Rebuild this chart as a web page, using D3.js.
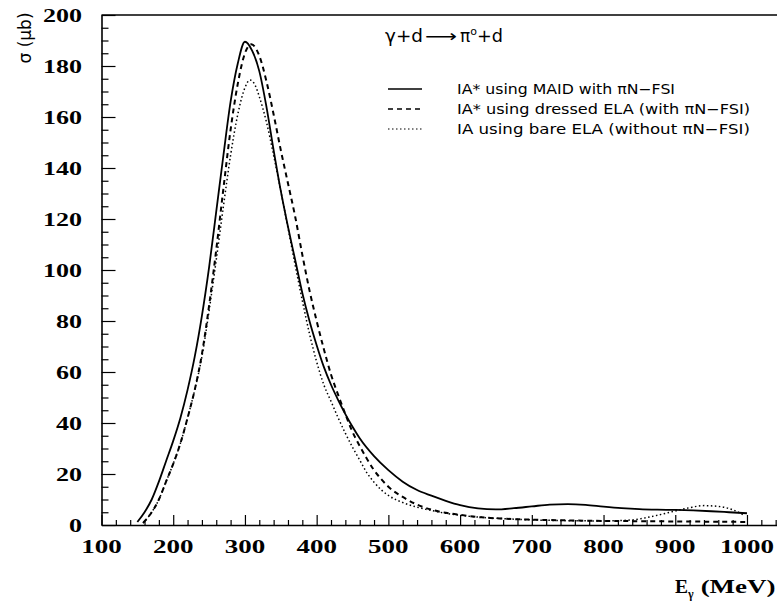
<!DOCTYPE html>
<html>
<head>
<meta charset="utf-8">
<script src="https://cdn.jsdelivr.net/npm/d3@7"></script>
<style>
  body { margin: 0; background: #fff; }
  svg { display: block; }
  .tick-label { font-family: "Liberation Serif", "Times New Roman", serif; font-weight: bold; font-size: 19px; fill: #000; }
  .paw { font-family: "DejaVu Sans", sans-serif; fill: #000; }
</style>
</head>
<body>
<svg id="chart"></svg>
<script>
// MAID with piN-FSI (solid)
const maidE = [150,160,170,180,190,200,210,220,230,240,250,260,270,280,290,300,310,320,330,340,350,360,370,380,390,400,410,420,430,440,450,460,480,500,520,540,560,580,600,625,650,675,700,725,750,775,800,825,850,875,900,925,950,975,1000];
const maidS = [1.2,5,10,17,25,33,42,53,66,82,101,123,145,166,181,189.5,186,178,164,147,131,117,104,91,80,70.5,62,55,49,43.5,38.5,34,27,21.5,17,13.7,11.5,9.5,7.8,6.5,6.1,6.6,7.3,8.0,8.2,7.9,7.2,6.6,6.2,6.0,5.9,5.7,5.4,5.0,4.6];

// dressed ELA with piN-FSI (dashed)
const dressedE = [158,170,180,190,200,210,220,230,240,250,260,270,280,290,300,309,320,330,340,350,360,370,380,390,400,410,420,430,440,450,460,470,480,490,500,520,540,560,580,600,630,660,700,750,800,850,900,950,1000];
const dressedS = [0.8,5,10,17,24,32,42,53,67,86,108,132,155,173,185,188.5,184,174,161,147,134,121,106,92,80,69,59,51,43.5,36.5,31,26,21.5,18,15,11,8,6,4.8,4,3.0,2.5,2.1,1.8,1.6,1.5,1.4,1.3,1.2];

// bare ELA without piN-FSI (dotted)
const bareE = [158,170,180,190,200,210,220,230,240,250,260,270,280,290,300,307,315,320,330,340,350,360,370,380,390,400,410,420,430,440,450,460,470,480,490,500,520,540,560,580,600,630,660,700,750,800,840,870,900,920,940,960,980,995];
const bareS = [0.8,5,10,17,24,32,42,53,66,84,104,125,145,161,171.5,174.5,172,168,158,145,131,116.5,102,88,75,64,55,48.5,42,36,30.5,25.5,20.5,16.8,13.8,11.6,8.8,7.0,5.7,4.6,3.8,3.0,2.5,2.0,1.7,1.6,2.0,3.5,5.5,6.8,7.6,7.3,6.0,4.0];

const xTicks = [100,200,300,400,500,600,700,800,900,1000];
const yTicks = [0,20,40,60,80,100,120,140,160,180,200];
const legendLabels = ["IA* using MAID with \u03c0N\u2212FSI", "IA* using dressed ELA (with \u03c0N\u2212FSI)", "IA using bare ELA (without \u03c0N\u2212FSI)"];
const legendWidths = [218, 293, 293];

const W = 777, H = 601;
const svg = d3.select("#chart").attr("width", W).attr("height", H);

const x = d3.scaleLinear().domain([100, 1100]).range([101.5, 818.7]);
const y = d3.scaleLinear().domain([0, 200]).range([525, 15]);

// frame
svg.append("line").attr("x1", x(100)).attr("x2", 830).attr("y1", y(200)).attr("y2", y(200))
  .attr("stroke", "#000").attr("stroke-width", 1.6);

// x axis
const xAxis = d3.axisBottom(x)
  .tickValues(d3.range(100, 1101, 20))
  .tickSize(0)
  .tickFormat("");
const gx = svg.append("g").attr("transform", `translate(0,${y(0)})`).call(xAxis);
gx.select(".domain").attr("stroke-width", 1.6);
gx.selectAll(".tick line")
  .attr("y2", d => d % 100 === 0 ? -10 : -5)
  .attr("stroke-width", 1.2);

svg.selectAll(".xlab").data(xTicks).enter().append("text")
  .attr("class", "tick-label")
  .attr("x", d => x(d)).attr("y", 553)
  .attr("text-anchor", "middle")
  .attr("textLength", d => String(d).length * 13.5)
  .attr("lengthAdjust", "spacingAndGlyphs")
  .text(d => d);

// y axis
const yAxis = d3.axisLeft(y)
  .tickValues(d3.range(0, 201, 5))
  .tickSize(0)
  .tickFormat("");
const gy = svg.append("g").attr("transform", `translate(${x(100)},0)`).call(yAxis);
gy.select(".domain").attr("stroke-width", 1.6);
gy.selectAll(".tick line")
  .attr("x2", d => d % 20 === 0 ? 14 : 7)
  .attr("stroke-width", 1.2);

svg.selectAll(".ylab").data(yTicks).enter().append("text")
  .attr("class", "tick-label")
  .attr("x", 82).attr("y", d => y(d) + 7)
  .attr("text-anchor", "end")
  .attr("textLength", d => String(d).length * 13)
  .attr("lengthAdjust", "spacingAndGlyphs")
  .text(d => d);

// axis titles
svg.append("text")
  .attr("class", "paw")
  .attr("transform", "translate(31,38) rotate(-90)")
  .attr("text-anchor", "middle")
  .style("font-size", "17px")
  .text("\u03c3 (\u03bcb)");

const xt = svg.append("text")
  .attr("class", "tick-label")
  .attr("x", 675).attr("y", 593)
  .style("font-size", "18px");
xt.append("tspan").attr("textLength", 13).attr("lengthAdjust", "spacingAndGlyphs").text("E");
xt.append("tspan").attr("dy", 5).style("font-size", "12px").text("\u03b3");
xt.append("tspan").attr("dy", -5).attr("dx", 7)
  .attr("textLength", 75).attr("lengthAdjust", "spacingAndGlyphs").text("(MeV)");

// curves
const line = d3.line()
  .x(d => x(d[0]))
  .y(d => y(d[1]))
  .curve(d3.curveMonotoneX);

const series = [
  { pts: d3.zip(maidE, maidS), dash: null, width: 1.8 },
  { pts: d3.zip(dressedE, dressedS), dash: "5,4", width: 2 },
  { pts: d3.zip(bareE, bareS), dash: "1.5,2.5", width: 1.5 }
];

svg.selectAll(".curve").data(series).enter().append("path")
  .attr("class", "curve")
  .attr("d", d => line(d.pts))
  .attr("fill", "none")
  .attr("stroke", "#000")
  .attr("stroke-width", d => d.width)
  .attr("stroke-dasharray", d => d.dash);

// title
const title = svg.append("text")
  .attr("class", "paw")
  .attr("x", 385).attr("y", 42)
  .style("font-size", "17px");
title.append("tspan").text("\u03b3+d").attr("textLength", 38).attr("lengthAdjust", "spacingAndGlyphs");
title.append("tspan").text("\u27f6").attr("dx", 2).attr("textLength", 32).attr("lengthAdjust", "spacingAndGlyphs");
title.append("tspan").text("\u03c0").attr("dx", 3);
title.append("tspan").text("o").attr("dy", -7).style("font-size", "11px");
title.append("tspan").text("+d").attr("dy", 7).attr("textLength", 26).attr("lengthAdjust", "spacingAndGlyphs");

// legend
const legend = svg.selectAll(".leg").data(series).enter().append("g")
  .attr("class", "leg")
  .attr("transform", (d, i) => `translate(0,${89 + i * 20})`);

legend.append("line")
  .attr("x1", 388).attr("x2", 422)
  .attr("stroke", "#000")
  .attr("stroke-width", d => d.width * 0.8)
  .attr("stroke-dasharray", d => d.dash);

legend.append("text")
  .attr("class", "paw")
  .attr("x", 457).attr("y", 5)
  .style("font-size", "14px")
  .attr("textLength", (d, i) => legendWidths[i])
  .attr("lengthAdjust", "spacingAndGlyphs")
  .text((d, i) => legendLabels[i]);
</script>
</body>
</html>
